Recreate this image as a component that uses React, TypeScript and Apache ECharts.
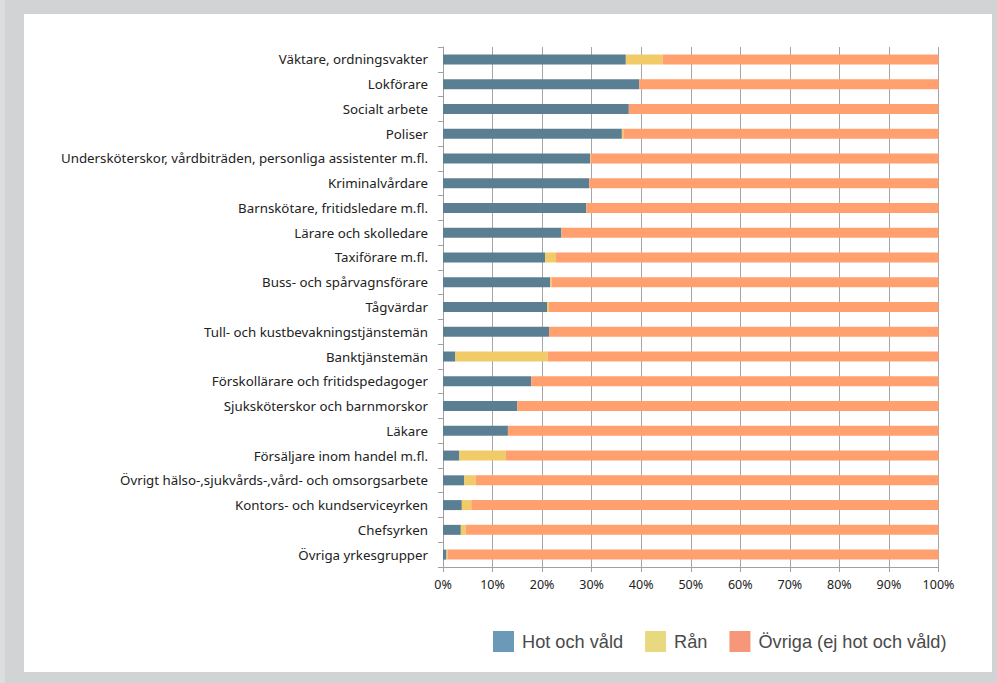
import React, { useEffect, useRef } from "react";
import * as echarts from "echarts";

const categories = [
  "Väktare, ordningsvakter",
  "Lokförare",
  "Socialt arbete",
  "Poliser",
  "Undersköterskor, vårdbiträden, personliga assistenter m.fl.",
  "Kriminalvårdare",
  "Barnskötare, fritidsledare m.fl.",
  "Lärare och skolledare",
  "Taxiförare m.fl.",
  "Buss- och spårvagnsförare",
  "Tågvärdar",
  "Tull- och kustbevakningstjänstemän",
  "Banktjänstemän",
  "Förskollärare och fritidspedagoger",
  "Sjuksköterskor och barnmorskor",
  "Läkare",
  "Försäljare inom handel m.fl.",
  "Övrigt hälso-,sjukvårds-,vård- och omsorgsarbete",
  "Kontors- och kundserviceyrken",
  "Chefsyrken",
  "Övriga yrkesgrupper",
];

const hotOchVald = [36.9, 39.6, 37.5, 36.1, 29.7, 29.5, 28.9, 23.9, 20.6, 21.6, 21.0, 21.4, 2.5, 17.8, 15.0, 13.1, 3.3, 4.3, 3.8, 3.6, 0.7];
const ran = [7.4, 0, 0, 0.3, 0.1, 0, 0, 0, 2.2, 0.3, 0.4, 0, 18.6, 0, 0, 0, 9.4, 2.3, 1.9, 1.0, 0.2];
const ovriga = [55.7, 60.4, 62.5, 63.6, 70.2, 70.5, 71.1, 76.1, 77.2, 78.1, 78.6, 78.6, 78.9, 82.2, 85.0, 86.9, 87.3, 93.4, 94.3, 95.4, 99.1];

const seriesNames = ["Hot och våld", "Rån", "Övriga (ej hot och våld)"];
const barColors = ["#5b7f92", "#f0cb68", "#ffa06e"];
const legendColors = ["#6a9ab8", "#e8d87f", "#f6977a"];

export default function App() {
  const ref = useRef<HTMLDivElement>(null);
  useEffect(() => {
    if (!ref.current) return;
    const chart = echarts.init(ref.current, null, { renderer: "svg" });
    const values = [hotOchVald, ran, ovriga];
    chart.setOption({
      animation: false,
      backgroundColor: "#d1d3d4",
      graphic: [
        { type: "rect", left: 0, top: 0, shape: { width: 5, height: 683 }, style: { fill: "#dcdddd" }, z: -10 },
        { type: "rect", left: 24, top: 14, shape: { width: 968, height: 658 }, style: { fill: "#ffffff" }, z: -10 },
      ],
      grid: { left: 443, right: 58.5, top: 47, bottom: 116, containLabel: false },
      legend: {
        left: 493,
        top: 631,
        padding: 0,
        icon: "rect",
        itemWidth: 21,
        itemHeight: 21,
        itemGap: 22,
        textStyle: { fontFamily: "Liberation Sans", fontSize: 18.2, color: "#4a4a4a", padding: [0, 0, 0, 3] },
        data: seriesNames.map((n, i) => ({ name: n, itemStyle: { color: legendColors[i] } })),
      },
      xAxis: {
        type: "value",
        min: 0,
        max: 100,
        interval: 10,
        axisLine: { show: true, lineStyle: { color: "#a0a0a0", width: 1 } },
        axisTick: { show: true, length: 5, lineStyle: { color: "#a0a0a0" } },
        splitLine: { show: true, lineStyle: { color: "#a6a6a6", width: 1 } },
        axisLabel: {
          formatter: "{value}%",
          fontFamily: "Noto Sans",
          fontSize: 12.5,
          color: "#222222",
          margin: 11,
        },
      },
      yAxis: {
        type: "category",
        data: categories,
        inverse: true,
        axisLine: { show: true, lineStyle: { color: "#a0a0a0", width: 1 } },
        axisTick: { show: true, length: 5, alignWithLabel: false, lineStyle: { color: "#a0a0a0" } },
        splitLine: { show: false },
        axisLabel: {
          fontFamily: "Noto Sans",
          fontSize: 13.3,
          color: "#222222",
          margin: 15,
        },
      },
      series: seriesNames.map((n, i) => ({
        name: n,
        type: "bar",
        stack: "total",
        barWidth: 10,
        data: values[i],
        itemStyle: { color: barColors[i] },
        emphasis: { disabled: true },
      })),
    });
    return () => chart.dispose();
  }, []);
  return <div ref={ref} style={{ position: "fixed", left: 0, top: 0, width: 997, height: 683 }} />;
}
